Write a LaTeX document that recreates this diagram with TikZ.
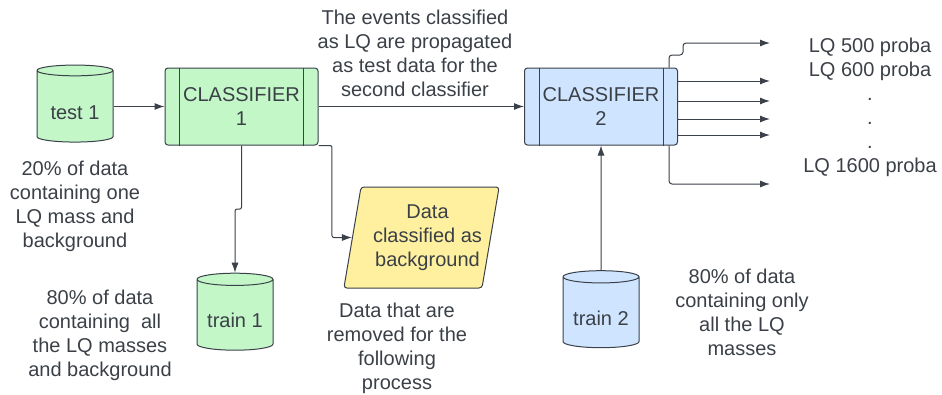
\documentclass[tikz,border=0pt]{standalone}
\usepackage{fontspec}
\setmainfont{Liberation Sans}
\usetikzlibrary{shapes.geometric, arrows.meta, calc}
\definecolor{ink}{HTML}{3A414A}
\definecolor{txt}{HTML}{3B4047}
\definecolor{gfill}{HTML}{C3F7C8}
\definecolor{bfill}{HTML}{CFE4FF}
\definecolor{yfill}{HTML}{FFF0A0}

\begin{document}
\begin{tikzpicture}[x=1pt, y=-1pt,
  every node/.style={font=\fontsize{20}{24}\selectfont, text=txt},
  db/.style={cylinder, shape border rotate=90, aspect=0.22, draw=ink, line width=1pt,
    minimum width=76pt, minimum height=77pt, inner sep=0pt,
    text height=25pt, text depth=0pt},
  proc/.style={draw=ink, line width=1pt, rounded corners=3pt, minimum width=153pt,
    minimum height=77pt, align=center, inner sep=0pt},
  note/.style={align=center, inner sep=0pt},
  arr/.style={draw=ink, line width=1pt, -{Latex[length=10pt,width=7pt]}},
  link/.style={draw=ink, line width=1pt}]

\useasboundingbox (0,0) rectangle (942,394);

% data stores
\node[db, fill=gfill] (test1) at (75,106.5) {test 1};
\node[db, fill=gfill] (train1) at (235,315) {train 1};
\node[db, fill=bfill] (train2) at (601,312.5) {train 2};

% classifiers
\node[proc, fill=gfill] (c1) at (241.5,106.5) {CLASSIFIER\\1};
\node[proc, fill=bfill] (c2) at (601,106.5) {CLASSIFIER\\2};
\foreach \c in {c1,c2} {
  \draw[link] ([xshift=15pt]\c.north west) -- ([xshift=15pt]\c.south west);
  \draw[link] ([xshift=-15pt]\c.north east) -- ([xshift=-15pt]\c.south east);
}

% rejected events
\node[trapezium, trapezium left angle=76.6, trapezium right angle=103.4,
  trapezium stretches=true, minimum width=151pt, minimum height=101pt,
  draw=ink, fill=yfill, line width=1pt, rounded corners=3pt,
  inner sep=0pt] (bg) at (421.5,237.5)
  {\hspace*{12pt}\begin{tabular}{@{}c@{}}Data\\classified as\\background\end{tabular}};

% captions
\node[note] (cap1) at (75,206) {20\% of data\\containing one\\LQ mass and\\background};
\node[note] (cap2) at (100,335) {80\% of data\\containing\ \ all\\the LQ masses\\and background};
\node[note] (cap3) at (397,348) {Data that are\\removed for the\\following\\process};
\node[note] (cap4) at (742,312) {80\% of data\\containing only\\all the LQ\\masses};
\node[note] (top) at (415,53.5) {The events classified\\as LQ are propagated\\as test data for the\\second classifier};
\node[note] (probs) at (870,107.5) {LQ 500 proba\\LQ 600 proba\\.\\.\\.\\LQ 1600 proba};

% output ends
\coordinate (o1) at (770,43);
\coordinate (o2) at (770,81);
\coordinate (o3) at (770,101);
\coordinate (o4) at (770,119);
\coordinate (o5) at (770,135);
\coordinate (o6) at (770,184);

% connectors
\draw[arr] (c1.west -| test1.east) -- (c1.west);
\draw[arr] (c1.east) -- (c2.west);
\draw[arr, rounded corners=2pt] (c1.south) |- ($(c1.south)!0.5!(train1.north)$) -| (train1.north);
\draw[arr, rounded corners=2pt] (c1.south east) -| ($(bg.west)+(-20,0)$) -- (bg.west);
\draw[arr] (train2.north) -- (c2.south);
\draw[arr, rounded corners=3pt] ($(c2.north east)+(-9,0)$) |- ($(o1)+(-87,12)$) |- (o1);
\foreach \o in {o2,o3,o4,o5} \draw[arr] (c2.east |- \o) -- (\o);
\draw[arr, rounded corners=3pt] ($(c2.south east)+(-9,0)$) |- (o6);
\end{tikzpicture}
\end{document}
